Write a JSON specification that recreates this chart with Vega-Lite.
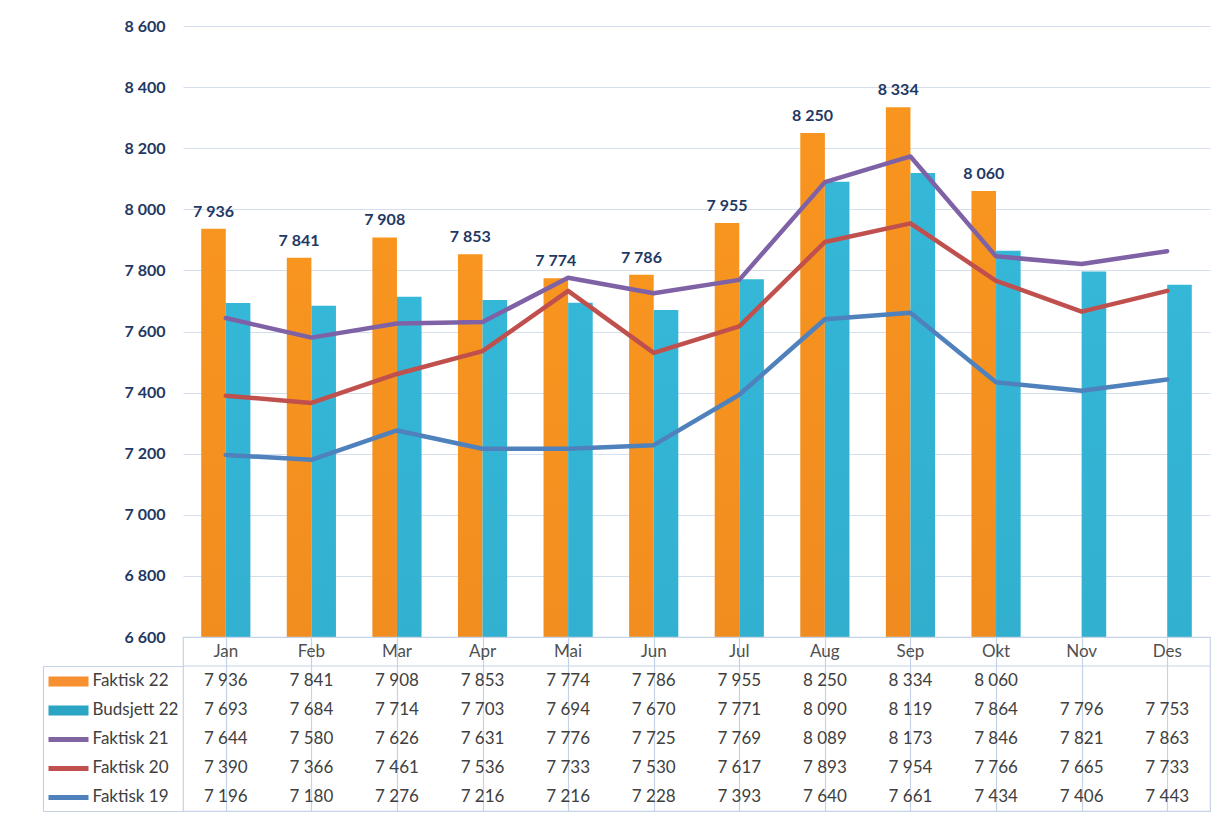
{
  "$schema": "https://vega.github.io/schema/vega-lite/v6.json",
  "background": "white",
  "padding": {"left": 41, "top": 18, "right": 5, "bottom": 0},
  "spacing": 0,
  "bounds": "flush",
  "config": {
    "view": {"stroke": null},
    "font": "Lato",
    "locale": {"number": {"decimal": ",", "thousands": " ", "grouping": [3], "currency": ["", " kr"]}}
  },
  "datasets": {
    "vals": [
      {"m": "Jan", "s": "Faktisk 22", "v": 7936}, {"m": "Feb", "s": "Faktisk 22", "v": 7841}, {"m": "Mar", "s": "Faktisk 22", "v": 7908}, {"m": "Apr", "s": "Faktisk 22", "v": 7853}, {"m": "Mai", "s": "Faktisk 22", "v": 7774}, {"m": "Jun", "s": "Faktisk 22", "v": 7786}, {"m": "Jul", "s": "Faktisk 22", "v": 7955}, {"m": "Aug", "s": "Faktisk 22", "v": 8250}, {"m": "Sep", "s": "Faktisk 22", "v": 8334}, {"m": "Okt", "s": "Faktisk 22", "v": 8060},
      {"m": "Jan", "s": "Budsjett 22", "v": 7693}, {"m": "Feb", "s": "Budsjett 22", "v": 7684}, {"m": "Mar", "s": "Budsjett 22", "v": 7714}, {"m": "Apr", "s": "Budsjett 22", "v": 7703}, {"m": "Mai", "s": "Budsjett 22", "v": 7694}, {"m": "Jun", "s": "Budsjett 22", "v": 7670}, {"m": "Jul", "s": "Budsjett 22", "v": 7771}, {"m": "Aug", "s": "Budsjett 22", "v": 8090}, {"m": "Sep", "s": "Budsjett 22", "v": 8119}, {"m": "Okt", "s": "Budsjett 22", "v": 7864}, {"m": "Nov", "s": "Budsjett 22", "v": 7796}, {"m": "Des", "s": "Budsjett 22", "v": 7753},
      {"m": "Jan", "s": "Faktisk 21", "v": 7644}, {"m": "Feb", "s": "Faktisk 21", "v": 7580}, {"m": "Mar", "s": "Faktisk 21", "v": 7626}, {"m": "Apr", "s": "Faktisk 21", "v": 7631}, {"m": "Mai", "s": "Faktisk 21", "v": 7776}, {"m": "Jun", "s": "Faktisk 21", "v": 7725}, {"m": "Jul", "s": "Faktisk 21", "v": 7769}, {"m": "Aug", "s": "Faktisk 21", "v": 8089}, {"m": "Sep", "s": "Faktisk 21", "v": 8173}, {"m": "Okt", "s": "Faktisk 21", "v": 7846}, {"m": "Nov", "s": "Faktisk 21", "v": 7821}, {"m": "Des", "s": "Faktisk 21", "v": 7863},
      {"m": "Jan", "s": "Faktisk 20", "v": 7390}, {"m": "Feb", "s": "Faktisk 20", "v": 7366}, {"m": "Mar", "s": "Faktisk 20", "v": 7461}, {"m": "Apr", "s": "Faktisk 20", "v": 7536}, {"m": "Mai", "s": "Faktisk 20", "v": 7733}, {"m": "Jun", "s": "Faktisk 20", "v": 7530}, {"m": "Jul", "s": "Faktisk 20", "v": 7617}, {"m": "Aug", "s": "Faktisk 20", "v": 7893}, {"m": "Sep", "s": "Faktisk 20", "v": 7954}, {"m": "Okt", "s": "Faktisk 20", "v": 7766}, {"m": "Nov", "s": "Faktisk 20", "v": 7665}, {"m": "Des", "s": "Faktisk 20", "v": 7733},
      {"m": "Jan", "s": "Faktisk 19", "v": 7196}, {"m": "Feb", "s": "Faktisk 19", "v": 7180}, {"m": "Mar", "s": "Faktisk 19", "v": 7276}, {"m": "Apr", "s": "Faktisk 19", "v": 7216}, {"m": "Mai", "s": "Faktisk 19", "v": 7216}, {"m": "Jun", "s": "Faktisk 19", "v": 7228}, {"m": "Jul", "s": "Faktisk 19", "v": 7393}, {"m": "Aug", "s": "Faktisk 19", "v": 7640}, {"m": "Sep", "s": "Faktisk 19", "v": 7661}, {"m": "Okt", "s": "Faktisk 19", "v": 7434}, {"m": "Nov", "s": "Faktisk 19", "v": 7406}, {"m": "Des", "s": "Faktisk 19", "v": 7443}
    ],
    "months": [
      {"m": "Jan"}, {"m": "Feb"}, {"m": "Mar"}, {"m": "Apr"}, {"m": "Mai"}, {"m": "Jun"}, {"m": "Jul"}, {"m": "Aug"}, {"m": "Sep"}, {"m": "Okt"}, {"m": "Nov"}, {"m": "Des"}
    ],
    "hline": [{"r": "top"}]
  },
  "vconcat": [
    {
      "width": 1027,
      "height": 611,
      "data": {"name": "vals"},
      "encoding": {
        "x": {"field": "m", "type": "nominal", "sort": null,
              "scale": {"domain": ["Jan", "Feb", "Mar", "Apr", "Mai", "Jun", "Jul", "Aug", "Sep", "Okt", "Nov", "Des"], "paddingInner": 0, "paddingOuter": 0},
              "axis": null},
        "y": {"field": "v", "type": "quantitative",
              "scale": {"domain": [6600, 8600], "zero": false, "nice": false},
              "axis": {"title": null, "values": [6600, 6800, 7000, 7200, 7400, 7600, 7800, 8000, 8200, 8400, 8600],
                       "format": ",d", "domain": false, "ticks": false, "grid": true, "gridColor": "#D5DEEC", "gridWidth": 1.2,
                       "labelFontWeight": "bold", "labelColor": "#1F3864", "labelFontSize": 16, "labelPadding": 18, "labelFont": "Lato"}}
      },
      "layer": [
        {
          "transform": [{"filter": "datum.s === 'Faktisk 22'"}],
          "mark": {"type": "bar", "clip": true,
                   "color": {"gradient": "linear", "x1": 0, "y1": 0, "x2": 0, "y2": 1,
                             "stops": [{"offset": 0, "color": "#F8951F"}, {"offset": 1, "color": "#D0661F"}]}},
          "encoding": {
            "xOffset": {"field": "s", "type": "nominal", "scale": {"domain": ["Faktisk 22", "Budsjett 22"], "paddingInner": 0, "paddingOuter": 0.74}}
          }
        },
        {
          "transform": [{"filter": "datum.s === 'Budsjett 22'"}],
          "mark": {"type": "bar", "clip": true,
                   "color": {"gradient": "linear", "x1": 0, "y1": 0, "x2": 0, "y2": 1,
                             "stops": [{"offset": 0, "color": "#35B7D8"}, {"offset": 1, "color": "#21889C"}]}},
          "encoding": {
            "xOffset": {"field": "s", "type": "nominal"}
          }
        },
        {
          "transform": [{"filter": "datum.s !== 'Faktisk 22' && datum.s !== 'Budsjett 22'"}],
          "mark": {"type": "line", "strokeWidth": 4.5, "strokeCap": "round", "strokeJoin": "round"},
          "encoding": {
            "color": {"field": "s", "type": "nominal", "legend": null,
                      "scale": {"domain": ["Faktisk 21", "Faktisk 20", "Faktisk 19"], "range": ["#7F62A6", "#C0504D", "#4F81BD"]}}
          }
        },
        {
          "transform": [{"filter": "datum.s === 'Faktisk 22'"}],
          "mark": {"type": "text", "baseline": "bottom", "dy": -9, "fontWeight": "bold", "fontSize": 16, "color": "#1F3864", "font": "Lato"},
          "encoding": {
            "xOffset": {"field": "s", "type": "nominal"},
            "text": {"field": "v", "type": "quantitative", "format": ",d"}
          }
        }
      ]
    },
    {
      "width": 1027,
      "height": 174,
      "view": {"stroke": "#C5D3E8", "strokeWidth": 1.2},
      "resolve": {"scale": {"y": "independent"}, "axis": {"y": "independent"}},
      "layer": [
        {
          "layer": [
            {
              "data": {"name": "vals"},
              "mark": {"type": "text", "fontSize": 17, "color": "#404040", "font": "Lato"},
              "encoding": {
                "x": {"field": "m", "type": "nominal", "sort": null,
                      "scale": {"domain": ["Jan", "Feb", "Mar", "Apr", "Mai", "Jun", "Jul", "Aug", "Sep", "Okt", "Nov", "Des"], "paddingInner": 0, "paddingOuter": 0},
                      "axis": {"orient": "bottom", "bandPosition": 0, "grid": true, "gridColor": "#C5D3E8", "gridWidth": 1.2, "labels": false, "ticks": false, "domain": false, "title": null}},
                "y": {"field": "s", "type": "nominal", "sort": null,
                      "scale": {"domain": ["hdr", "Faktisk 22", "Budsjett 22", "Faktisk 21", "Faktisk 20", "Faktisk 19"], "paddingInner": 0, "paddingOuter": 0},
                      "axis": {"orient": "left", "offset": 95, "domain": false, "grid": false, "title": null,
                               "tickSize": 40,
                               "tickWidth": {"condition": {"test": "datum.value === 'Faktisk 22' || datum.value === 'Budsjett 22'", "value": 10}, "value": 5},
                               "tickColor": {"condition": [
                                 {"test": "datum.value === 'Faktisk 22'", "value": "#F79030"},
                                 {"test": "datum.value === 'Budsjett 22'", "value": "#2AA6C4"},
                                 {"test": "datum.value === 'Faktisk 21'", "value": "#8064A2"},
                                 {"test": "datum.value === 'Faktisk 20'", "value": "#C0504D"},
                                 {"test": "datum.value === 'Faktisk 19'", "value": "#4F81BD"}], "value": "transparent"},
                               "labelAlign": "left", "labelPadding": -44, "labelExpr": "datum.value === 'hdr' ? '' : datum.value",
                               "labelFontSize": 17, "labelColor": "#404040", "labelFont": "Lato"}},
                "text": {"field": "v", "type": "quantitative", "format": ",d"}
              }
            },
            {
              "data": {"name": "months"},
              "mark": {"type": "text", "fontSize": 17, "color": "#505050", "font": "Lato"},
              "encoding": {
                "x": {"field": "m", "type": "nominal", "sort": null},
                "y": {"datum": "hdr", "type": "nominal"},
                "text": {"field": "m", "type": "nominal"}
              }
            }
          ]
        },
        {
          "data": {"name": "hline"},
          "mark": {"type": "rule", "color": "#C5D3E8", "strokeWidth": 1.2},
          "encoding": {
            "y": {"field": "r", "type": "nominal",
                  "scale": {"type": "point", "domain": ["top", "bottom"], "range": [29, 174], "padding": 0},
                  "axis": {"orient": "left", "offset": 140, "title": null, "labels": false,
                           "domain": true, "domainColor": "#C5D3E8", "domainWidth": 1.2,
                           "ticks": true, "tickSize": -140, "tickColor": "#C5D3E8", "tickWidth": 1.2, "grid": false}}
          }
        }
      ]
    }
  ]
}
